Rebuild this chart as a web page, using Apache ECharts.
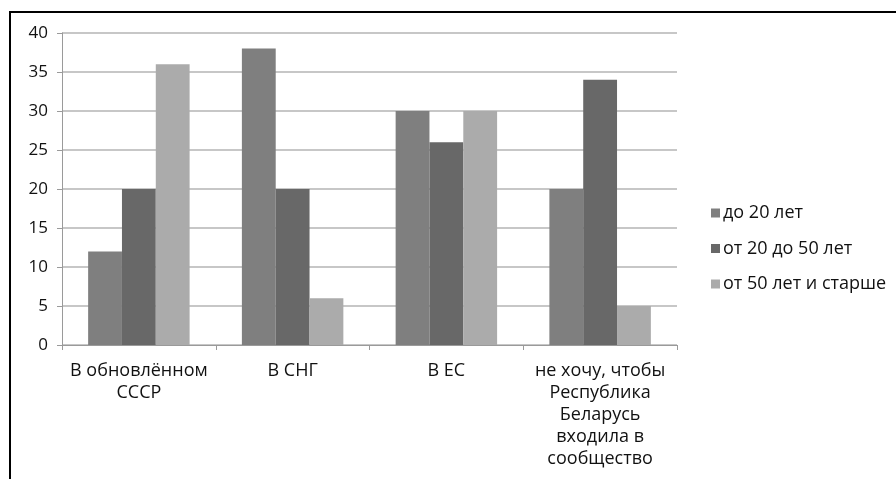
<!DOCTYPE html>
<html><head><meta charset="utf-8">
<script src="https://cdn.jsdelivr.net/npm/echarts@6/dist/echarts.min.js"></script>
<style>
html,body{margin:0;padding:0;background:#fff;}
#frame{position:absolute;left:9px;top:11px;width:900px;height:480px;border-left:2px solid #000;border-top:2px solid #000;}
#c{position:absolute;left:0;top:0;width:896px;height:479px;}
</style></head>
<body>
<div id="frame"></div>
<div id="c"></div>
<script>
const categories = ["В обновлённом\nСССР", "В СНГ", "В ЕС", "не хочу, чтобы\nРеспублика\nБеларусь\nвходила в\nсообщество"];
const seriesNames = ["до 20 лет", "от 20 до 50 лет", "от 50 лет и старше"];
const under20 = [12, 38, 30, 20];
const from20to50 = [20, 20, 26, 34];
const over50 = [36, 6, 30, 5];
const colors = ["#7f7f7f", "#686868", "#ababab"];

const font = "'Open Sans', 'Noto Sans', sans-serif";
const chart = echarts.init(document.getElementById('c'), null, {renderer: 'canvas'});
chart.setOption({
  animation: false,
  backgroundColor: 'transparent',
  textStyle: {fontFamily: font},
  grid: {left: 62, right: 219, top: 33, bottom: 134},
  legend: {
    orient: 'vertical', left: 706, top: 199, itemGap: 17.5,
    itemWidth: 9, itemHeight: 9, icon: 'rect',
    textStyle: {fontFamily: font, fontSize: 18, color: '#111', padding: [0, 0, 0, -2]},
    data: seriesNames
  },
  xAxis: {
    type: 'category', data: categories,
    axisLine: {lineStyle: {color: '#9a9a9a', width: 1}},
    axisTick: {show: true, length: 5, alignWithLabel: false, lineStyle: {color: '#9a9a9a'}},
    axisLabel: {fontFamily: font, fontSize: 18, color: '#111', margin: 15, lineHeight: 22, interval: 0}
  },
  yAxis: {
    type: 'value', min: 0, max: 40, interval: 5,
    axisLine: {show: true, lineStyle: {color: '#9a9a9a', width: 1}},
    axisTick: {show: true, length: 5, lineStyle: {color: '#9a9a9a'}},
    axisLabel: {fontFamily: font, fontSize: 17, color: '#111', margin: 14},
    splitLine: {lineStyle: {color: '#b4b4b4', width: 1.5}}
  },
  series: [
    {name: seriesNames[0], type: 'bar', data: under20, itemStyle: {color: colors[0]}, barGap: '0%', barCategoryGap: '34%'},
    {name: seriesNames[1], type: 'bar', data: from20to50, itemStyle: {color: colors[1]}, barGap: '0%', barCategoryGap: '34%'},
    {name: seriesNames[2], type: 'bar', data: over50, itemStyle: {color: colors[2]}, barGap: '0%', barCategoryGap: '34%'}
  ]
});
</script>
</body></html>
